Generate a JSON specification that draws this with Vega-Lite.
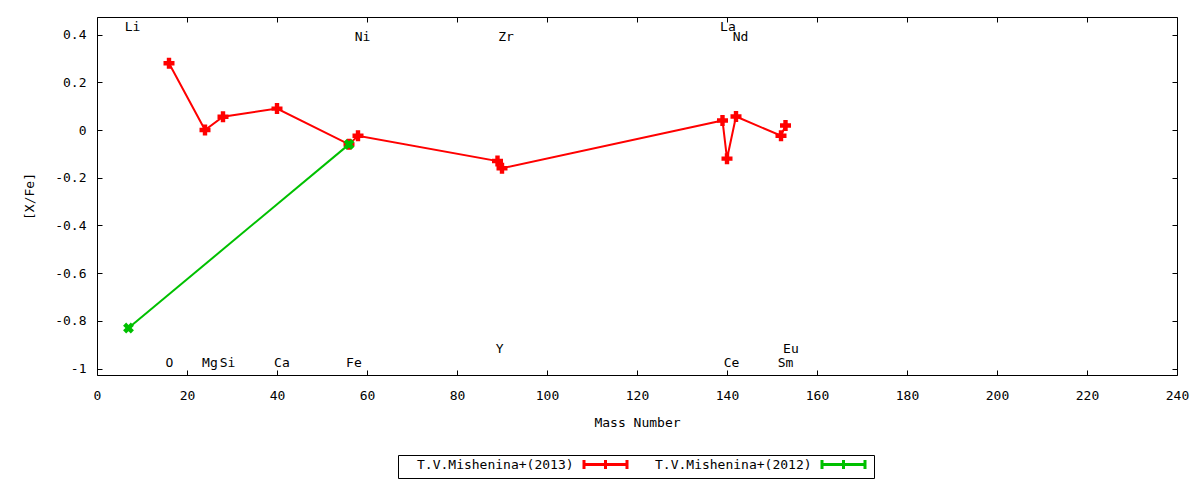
{
  "$schema": "https://vega.github.io/schema/vega-lite/v6.json",
  "width": 1080,
  "height": 358,
  "autosize": "none",
  "padding": {"left": 97, "top": 17, "right": 23, "bottom": 105},
  "background": "white",
  "datasets": {
    "abund": [
      {"series": "T.V.Mishenina+(2013)", "el": "O", "mass": 16, "value": 0.28},
      {"series": "T.V.Mishenina+(2013)", "el": "Mg", "mass": 24, "value": 0.0},
      {"series": "T.V.Mishenina+(2013)", "el": "Si", "mass": 28, "value": 0.056},
      {"series": "T.V.Mishenina+(2013)", "el": "Ca", "mass": 40, "value": 0.09},
      {"series": "T.V.Mishenina+(2013)", "el": "Fe", "mass": 56, "value": -0.06},
      {"series": "T.V.Mishenina+(2013)", "el": "Ni", "mass": 58, "value": -0.024},
      {"series": "T.V.Mishenina+(2013)", "el": "Y", "mass": 89, "value": -0.13},
      {"series": "T.V.Mishenina+(2013)", "el": "Zr", "mass": 90, "value": -0.16},
      {"series": "T.V.Mishenina+(2013)", "el": "La", "mass": 139, "value": 0.04},
      {"series": "T.V.Mishenina+(2013)", "el": "Ce", "mass": 140, "value": -0.12},
      {"series": "T.V.Mishenina+(2013)", "el": "Nd", "mass": 142, "value": 0.057},
      {"series": "T.V.Mishenina+(2013)", "el": "Sm", "mass": 152, "value": -0.024},
      {"series": "T.V.Mishenina+(2013)", "el": "Eu", "mass": 153, "value": 0.019},
      {"series": "T.V.Mishenina+(2012)", "el": "Li", "mass": 7, "value": -0.83},
      {"series": "T.V.Mishenina+(2012)", "el": "Fe", "mass": 56, "value": -0.06}
    ],
    "names": [
      {"el": "Li", "x": 7.9, "y": 0.432},
      {"el": "Ni", "x": 59, "y": 0.39},
      {"el": "Zr", "x": 90.9, "y": 0.39},
      {"el": "La", "x": 140.2, "y": 0.432},
      {"el": "Nd", "x": 143, "y": 0.39},
      {"el": "O", "x": 16.1, "y": -0.977},
      {"el": "Mg", "x": 25.1, "y": -0.977},
      {"el": "Si", "x": 29, "y": -0.977},
      {"el": "Ca", "x": 41.1, "y": -0.977},
      {"el": "Fe", "x": 57.1, "y": -0.977},
      {"el": "Y", "x": 89.5, "y": -0.918},
      {"el": "Ce", "x": 141, "y": -0.977},
      {"el": "Sm", "x": 153, "y": -0.977},
      {"el": "Eu", "x": 154.2, "y": -0.918}
    ]
  },
  "layer": [
    {
      "data": {"name": "abund"},
      "mark": {"type": "line", "strokeWidth": 2},
      "encoding": {
        "x": {
          "field": "mass", "type": "quantitative",
          "scale": {"domain": [0, 240], "nice": false, "zero": false},
          "axis": {
            "title": "Mass Number", "values": [0, 20, 40, 60, 80, 100, 120, 140, 160, 180, 200, 220, 240],
            "tickSize": -5, "labelPadding": 19, "titlePadding": 14, "labelFlush": false, "labelOverlap": false
          }
        },
        "y": {
          "field": "value", "type": "quantitative",
          "scale": {"domain": [-1.027, 0.474], "nice": false, "zero": false},
          "axis": {
            "title": "[X/Fe]", "values": [-1, -0.8, -0.6, -0.4, -0.2, 0, 0.2, 0.4],
            "format": ".1~f", "labelExpr": "replace(datum.label, '\u2212', '-')",
            "tickSize": -5, "labelPadding": 16, "titlePadding": 18, "labelFlush": false
          }
        },
        "color": {
          "field": "series", "type": "nominal",
          "scale": {"domain": ["T.V.Mishenina+(2013)", "T.V.Mishenina+(2012)"], "range": ["#ff0000", "#00c000"]},
          "legend": {
            "orient": "none", "legendX": 301, "legendY": 438, "direction": "horizontal", "title": null,
            "symbolType": "M35.3,-0.9V0.9M35.3,0H43.9M43.9,-0.9V0.9M39.6,-0.9V0.9",
            "symbolSize": 100, "symbolStrokeWidth": 3,
            "labelFont": "DejaVu Sans Mono", "labelFontSize": 13, "labelColor": "black", "labelOffset": 3,
            "strokeColor": "black", "padding": 3, "columnPadding": 6
          }
        }
      }
    },
    {
      "data": {"name": "abund"},
      "transform": [{"filter": "datum.series == 'T.V.Mishenina+(2013)'"}],
      "mark": {"type": "point", "shape": "cross", "size": 121, "filled": true, "color": "#ff0000", "opacity": 1},
      "encoding": {
        "x": {
          "field": "mass", "type": "quantitative",
          "axis": {"orient": "top", "labels": false, "title": null, "tickSize": -5, "domain": false,
            "values": [0, 20, 40, 60, 80, 100, 120, 140, 160, 180, 200, 220, 240]}
        },
        "y": {
          "field": "value", "type": "quantitative",
          "axis": {"orient": "right", "labels": false, "title": null, "tickSize": -5, "domain": false,
            "values": [-1, -0.8, -0.6, -0.4, -0.2, 0, 0.2, 0.4]}
        }
      }
    },
    {
      "data": {"name": "abund"},
      "transform": [{"filter": "datum.series == 'T.V.Mishenina+(2012)'"}],
      "mark": {"type": "point", "shape": "cross", "angle": 45, "size": 121, "filled": true, "color": "#00c000", "opacity": 1},
      "encoding": {
        "x": {"field": "mass", "type": "quantitative", "axis": null},
        "y": {"field": "value", "type": "quantitative", "axis": null}
      }
    },
    {
      "data": {"name": "names"},
      "mark": {"type": "text", "font": "DejaVu Sans Mono", "fontSize": 13, "color": "black", "align": "center", "baseline": "middle"},
      "encoding": {
        "x": {"field": "x", "type": "quantitative", "axis": null},
        "y": {"field": "y", "type": "quantitative", "axis": null},
        "text": {"field": "el"}
      }
    }
  ],
  "resolve": {"axis": {"x": "independent", "y": "independent"}},
  "config": {
    "view": {"stroke": "black", "strokeWidth": 1},
    "axis": {
      "grid": false, "domain": false, "tickColor": "black", "tickWidth": 1,
      "labelFont": "DejaVu Sans Mono", "labelFontSize": 13, "labelColor": "black",
      "titleFont": "DejaVu Sans Mono", "titleFontSize": 13, "titleFontWeight": "normal", "titleColor": "black"
    }
  }
}
